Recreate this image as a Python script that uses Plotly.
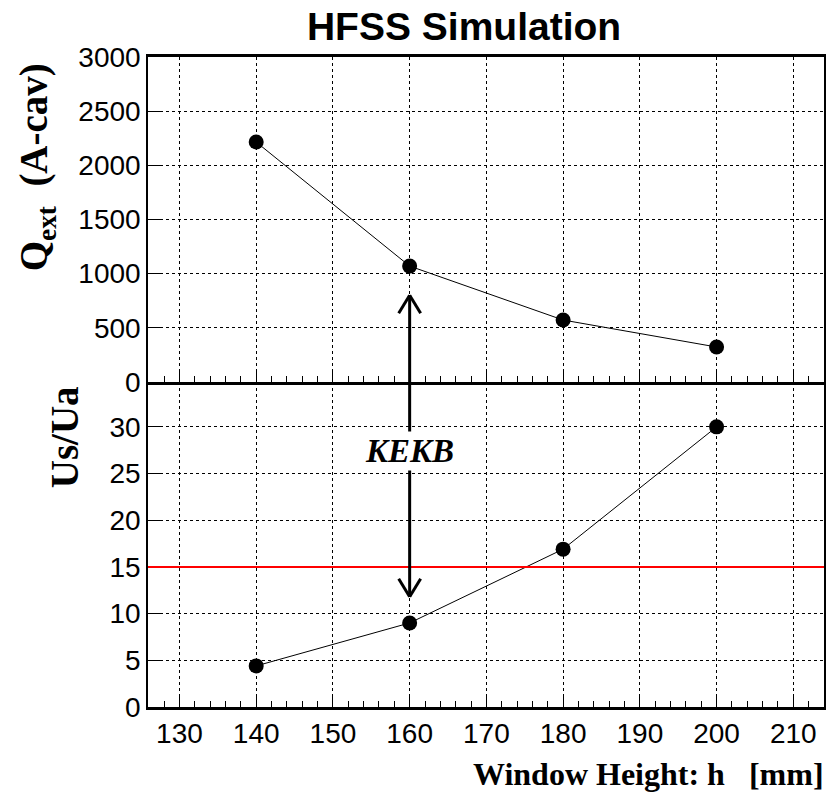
import plotly.graph_objects as go

# ---------------- data ----------------
window_height = [140, 160, 180, 200]          # h [mm]
q_ext = [2215, 1070, 572, 323]                # Q_ext (A-cav)
us_ua = [4.4, 9.0, 16.9, 30.0]                # Us/Ua
kekb_height = 160                              # KEKB design window height
kekb_ratio_limit = 15                          # horizontal reference line
arrow_top_qext = 800                           # arrow tip in upper panel (Q_ext units)
arrow_bottom_ratio = 11.8                      # arrow tip in lower panel (Us/Ua units)
kekb_label_ratio = 27.4                        # KEKB label position (Us/Ua units)

x_range = [125.9, 214]
q_range = [0, 3000]
r_range = [0, 34.8]

# ---------------- layout geometry ----------------
W, H = 836, 792
L, R, T, B = 148, 826, 57, 707
PW, PH = R - L, B - T


def px(x):
    return (x - L) / PW


def py(y):
    return (B - y) / PH


SANS = "Liberation Sans, Arial, sans-serif"
SERIF = "Liberation Serif, Times New Roman, serif"

fig = go.Figure()

fig.add_trace(go.Scatter(
    x=window_height, y=q_ext, xaxis="x2", yaxis="y",
    mode="lines+markers",
    line=dict(color="black", width=1),
    marker=dict(color="black", size=15),
    showlegend=False,
))
fig.add_trace(go.Scatter(
    x=window_height, y=us_ua, xaxis="x", yaxis="y2",
    mode="lines+markers",
    line=dict(color="black", width=1),
    marker=dict(color="black", size=15),
    showlegend=False,
))

grid = dict(showgrid=True, gridcolor="black", gridwidth=1, griddash="dot")
xcommon = dict(
    range=x_range, tick0=130, dtick=10, ticks="inside", ticklen=12, tickwidth=1,
    tickcolor="black", showline=True, linecolor="black", linewidth=2.5,
    minor=dict(dtick=2, ticks="inside", ticklen=6, tickwidth=1, tickcolor="black", showgrid=False),
    zeroline=False, **grid,
)
ycommon = dict(
    ticks="inside", ticklen=12, tickwidth=1, tickcolor="black",
    showline=True, linecolor="black", linewidth=1.5, mirror=True,
    zeroline=False, tickfont=dict(family=SANS, size=28, color="black"), **grid,
)

fig.update_layout(
    width=W, height=H,
    margin=dict(l=L, r=W - R, t=T, b=H - B),
    paper_bgcolor="white", plot_bgcolor="white",
    title=dict(text="<b>HFSS Simulation</b>", x=px(465), xref="paper", xanchor="center",
               y=1 - 26 / H, yref="container", yanchor="middle",
               font=dict(family=SANS, size=39, color="black")),
    xaxis=dict(domain=[0, 1], anchor="y2", showticklabels=True, mirror=False,
               tickfont=dict(family=SANS, size=28, color="black"), **xcommon),
    xaxis2=dict(domain=[0, 1], anchor="y", matches="x", showticklabels=False,
                mirror=True, **xcommon),
    yaxis=dict(domain=[0.5, 1], anchor="x2", range=q_range, dtick=500, **ycommon),
    yaxis2=dict(domain=[0, 0.5], anchor="x", range=r_range, dtick=5, **ycommon),
)

# reference line
fig.add_shape(type="line", xref="paper", yref="y2", x0=0, x1=1,
              y0=kekb_ratio_limit, y1=kekb_ratio_limit,
              line=dict(color="red", width=2))

# double arrow spanning both panels (converted to paper coordinates)
q_to_py = lambda v: 0.5 + 0.5 * (v - q_range[0]) / (q_range[1] - q_range[0])
r_to_py = lambda v: 0.5 * (v - r_range[0]) / (r_range[1] - r_range[0])
tip_top = q_to_py(arrow_top_qext)
tip_bot = r_to_py(arrow_bottom_ratio)
head_dx = 11 / PW * (x_range[1] - x_range[0])
head_dy = 18 / PH
arrow_line = dict(color="black", width=3)
fig.add_shape(type="line", xref="x", yref="paper", x0=kekb_height, x1=kekb_height,
              y0=tip_bot, y1=tip_top, line=arrow_line)
for sgn in (-1, 1):
    fig.add_shape(type="line", xref="x", yref="paper",
                  x0=kekb_height, y0=tip_top, x1=kekb_height + sgn * head_dx, y1=tip_top - head_dy,
                  line=arrow_line)
    fig.add_shape(type="line", xref="x", yref="paper",
                  x0=kekb_height, y0=tip_bot, x1=kekb_height + sgn * head_dx, y1=tip_bot + head_dy,
                  line=arrow_line)

fig.add_annotation(x=kekb_height, y=r_to_py(kekb_label_ratio), xref="x", yref="paper",
                   text="<b><i>KEKB</i></b>", showarrow=False, bgcolor="white",
                   font=dict(family=SERIF, size=33, color="black"),
                   xanchor="center", yanchor="middle")

# axis titles
fig.add_annotation(x=px(828), y=py(774), xref="paper", yref="paper",
                   text="<b>Window Height: h\u00a0\u00a0\u00a0[mm]</b>", showarrow=False,
                   font=dict(family=SERIF, size=32, color="black"),
                   xanchor="right", yanchor="middle")
fig.add_annotation(x=px(37), y=py(167), xref="paper", yref="paper",
                   text="<b>Q<sub>ext</sub>\u00a0\u00a0(A-cav)</b>", showarrow=False,
                   textangle=-90,
                   font=dict(family=SERIF, size=39, color="black"),
                   xanchor="center", yanchor="middle")
fig.add_annotation(x=px(65), y=py(437), xref="paper", yref="paper",
                   text="<b>Us/Ua</b>", showarrow=False, textangle=-90,
                   font=dict(family=SERIF, size=39, color="black"),
                   xanchor="center", yanchor="middle")

fig.write_html("out.html",
               config={"displayModeBar": False},
               post_script="document.body.style.margin='0';document.body.style.overflow='hidden';")
